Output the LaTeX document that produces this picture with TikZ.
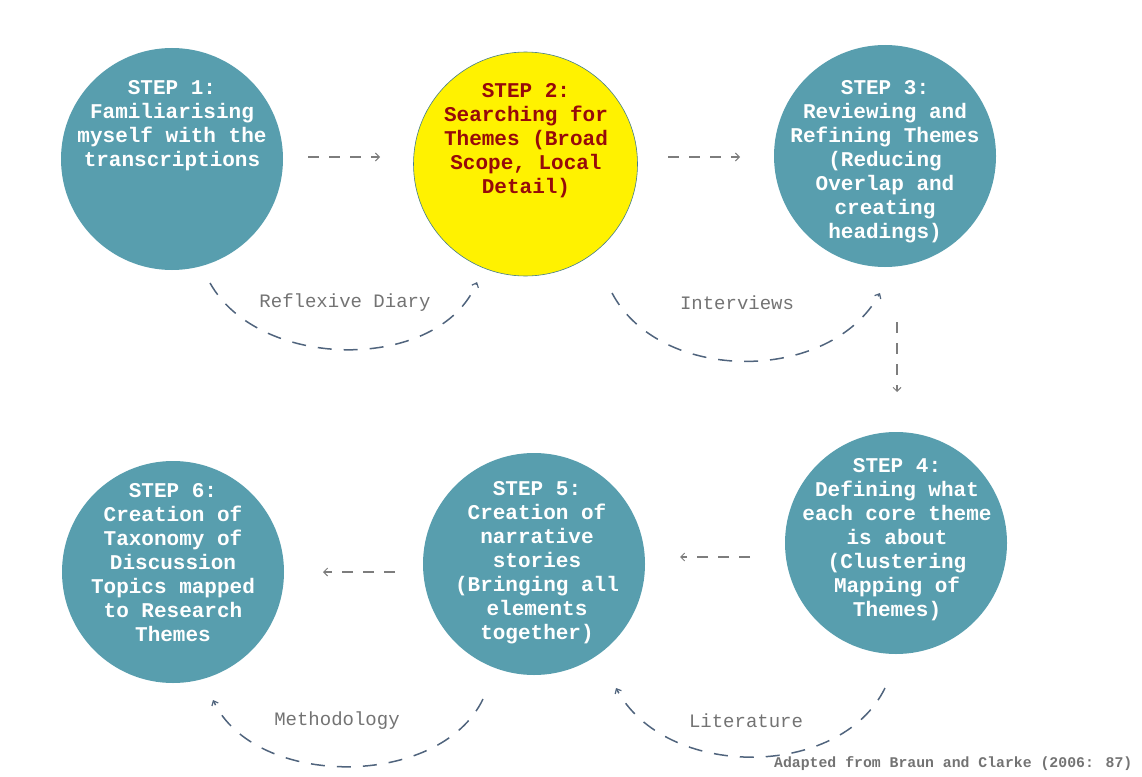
\documentclass[tikz,border=0pt]{standalone}
\usepackage{fontspec}
\newfontfamily\monofont{Liberation Mono}
\usetikzlibrary{arrows.meta}
\definecolor{stepteal}{RGB}{88,158,174}
\definecolor{stepred}{RGB}{150,10,10}
\definecolor{arcblue}{RGB}{80,100,125}
\definecolor{linkgray}{RGB}{125,125,125}
\definecolor{labelgray}{RGB}{115,115,115}
\tikzset{
  stepcircle/.style={circle, fill=stepteal, draw=none, minimum size=222pt, inner sep=0pt},
  focuscircle/.style={circle, fill=yellow, draw=stepteal!80!black, line width=0.6pt, minimum size=224pt, inner sep=0pt},
  steptext/.style={anchor=north, inner sep=0pt, align=center, text=white,
    font=\monofont\bfseries\fontsize{21}{24}\selectfont},
  focustext/.style={steptext, text=stepred},
  link/.style={draw=linkgray, line width=1.1pt, dash pattern=on 11pt off 10pt,
    -{Straight Barb[length=4pt,width=8pt,line width=1pt]}},
  cycle/.style={draw=arcblue, line width=1.5pt, dash pattern=on 14pt off 12pt,
    -{Straight Barb[length=4pt,width=7pt,line width=1.2pt]}},
  arclabel/.style={text=labelgray, inner sep=0pt, font=\monofont\fontsize{19}{22}\selectfont},
  source/.style={text=labelgray, inner sep=0pt, anchor=west, font=\monofont\bfseries\fontsize{14.8}{18}\selectfont}
}
\begin{document}
\begin{tikzpicture}[x=1pt,y=-1pt]
\useasboundingbox (0,0) rectangle (1142,776);

% the six steps
\node[stepcircle]  (s1) at (172,159) {};
\node[focuscircle] (s2) at (525.5,164) {};
\node[stepcircle]  (s3) at (885,156) {};
\node[stepcircle]  (s4) at (896,543) {};
\node[stepcircle]  (s5) at (534,564) {};
\node[stepcircle]  (s6) at (173,572) {};

\node[steptext]  (t1) at (172,80) {STEP 1:\\Familiarising\\myself with the\\transcriptions};
\node[focustext] (t2) at (526,83) {STEP 2:\\Searching for\\Themes (Broad\\Scope, Local\\Detail)};
\node[steptext]  (t3) at (885,80) {STEP 3:\\Reviewing and\\Refining Themes\\(Reducing\\Overlap and\\creating\\headings)};
\node[steptext]  (t4) at (897,458) {STEP 4:\\Defining what\\each core theme\\is about\\(Clustering\\Mapping of\\Themes)};
\node[steptext]  (t5) at (537,481) {STEP 5:\\Creation of\\narrative\\stories\\(Bringing all\\elements\\together)};
\node[steptext]  (t6) at (173,483) {STEP 6:\\Creation of\\Taxonomy of\\Discussion\\Topics mapped\\to Research\\Themes};

% straight links between steps
\coordinate (l12a) at (308,157); \coordinate (l12b) at (380,157);
\coordinate (l23a) at (668,157); \coordinate (l23b) at (740,157);
\coordinate (l34a) at (897,322); \coordinate (l34b) at (897,392);
\coordinate (l45a) at (750,557); \coordinate (l45b) at (680,557);
\coordinate (l56a) at (395,572); \coordinate (l56b) at (323,572);
\draw[link] (l12a) -- (l12b);
\draw[link] (l23a) -- (l23b);
\draw[link] (l34a) -- (l34b);
\draw[link] (l45a) -- (l45b);
\draw[link] (l56a) -- (l56b);

% curved feedback loops
\coordinate (c1a) at (210,283); \coordinate (c1b) at (477,282);
\coordinate (c2a) at (612,293); \coordinate (c2b) at (880,293);
\coordinate (c3a) at (483,699); \coordinate (c3b) at (213,700);
\coordinate (c4a) at (885,688); \coordinate (c4b) at (616,688);
\draw[cycle] (c1a) .. controls (260,372) and (440,372) .. (c1b);
\draw[cycle] (c2a) .. controls (660,384) and (830,384) .. (c2b);
\draw[cycle] (c3a) .. controls (440,789) and (255,789) .. (c3b);
\draw[cycle] (c4a) .. controls (840,780) and (665,780) .. (c4b);

\node[arclabel] (r1) at (345,303) {Reflexive Diary};
\node[arclabel] (r2) at (737,303) {Interviews};
\node[arclabel] (r3) at (337,721) {Methodology};
\node[arclabel] (r4) at (746,721) {Literature};

\node[source] (src) at (774,764) {Adapted from Braun and Clarke (2006: 87)};
\end{tikzpicture}
\end{document}
